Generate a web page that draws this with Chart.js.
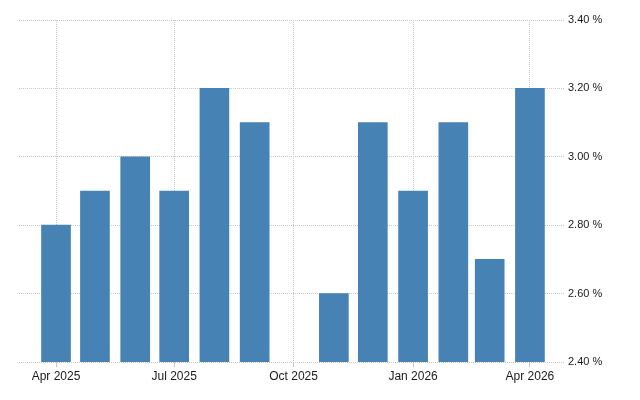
<!DOCTYPE html>
<html>
<head>
<meta charset="utf-8">
<style>
  html, body { margin: 0; padding: 0; background: #fff; }
  #wrap { width: 640px; height: 400px; }
</style>
<script src="https://cdn.jsdelivr.net/npm/chart.js@4/dist/chart.umd.min.js"></script>
</head>
<body>
<div id="wrap"><canvas id="my-chart" width="640" height="400"></canvas></div>
<script>
const months = ["2025-04", "2025-05", "2025-06", "2025-07", "2025-08", "2025-09", "2025-10",
  "2025-11", "2025-12", "2026-01", "2026-02", "2026-03", "2026-04"];
const values = [2.8, 2.9, 3.0, 2.9, 3.2, 3.1, null, 2.6, 3.1, 2.9, 3.1, 2.7, 3.2];
const tickMonths = ["2025-04", "2025-07", "2025-10", "2026-01", "2026-04"];
const tickLabels = ["Apr 2025", "Jul 2025", "Oct 2025", "Jan 2026", "Apr 2026"];
const yTicks = [2.4, 2.6, 2.8, 3.0, 3.2, 3.4];

// day offset from the first month, so bar spacing follows calendar days
const start = Date.UTC(2025, 3, 1);
function dayOf(m) {
  const p = m.split("-");
  return (Date.UTC(+p[0], +p[1] - 1, 1) - start) / 86400000;
}

const points = months.map((m, i) => ({ x: dayOf(m), y: values[i] }));

const dotted = "#c8c8c8";
const textColor = "#1a1a1a";

const config = {
  type: "bar",
  data: {
    datasets: [
      {
        data: points,
        backgroundColor: "#4682b4",
        borderWidth: 0,
        barThickness: 29,
      },
    ],
  },
  options: {
    responsive: false,
    animation: false,
    layout: { padding: { left: 19, top: 20, right: 0, bottom: 0 } },
    plugins: {
      legend: { display: false },
      tooltip: { enabled: false },
    },
    scales: {
      x: {
        type: "linear",
        min: -28.5,
        max: 392,
        offset: false,
        afterBuildTicks: (scale) => {
          scale.ticks = tickMonths.map((m) => ({ value: dayOf(m) }));
        },
        afterFit: (scale) => { scale.height = 38; },
        ticks: {
          autoSkip: false,
          maxRotation: 0,
          padding: 2,
          color: textColor,
          font: { family: "Liberation Sans", size: 12 },
          callback: (v, i) => tickLabels[i],
        },
        grid: {
          offset: false,
          color: dotted,
          tickLength: 5,
          tickBorderDash: [],
          tickColor: dotted,
        },
        border: { display: false, dash: [1, 1] },
      },
      y: {
        position: "right",
        min: 2.4,
        max: 3.4,
        afterBuildTicks: (scale) => {
          scale.ticks = yTicks.map((v) => ({ value: v }));
        },
        afterFit: (scale) => { scale.width = 75; },
        ticks: {
          padding: 3,
          color: textColor,
          font: { family: "Liberation Sans", size: 11 },
          callback: (v) => v.toFixed(2) + " %",
        },
        grid: {
          color: dotted,
          drawTicks: false,
        },
        border: { display: false, dash: [1, 1] },
      },
    },
  },
};

const myChart = new Chart(document.getElementById("my-chart"), config);
</script>
</body>
</html>
